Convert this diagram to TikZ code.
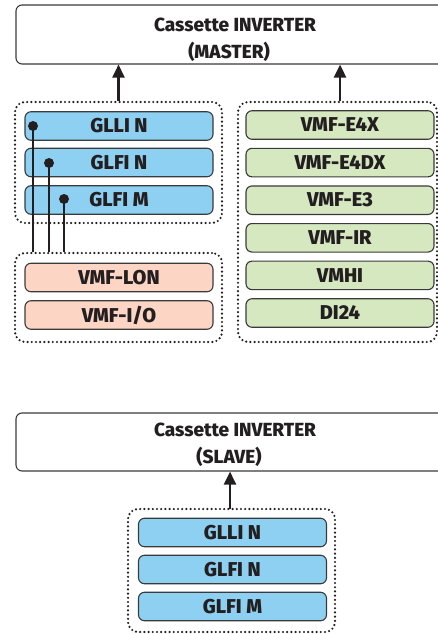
\documentclass[tikz,border=0pt]{standalone}
\usepackage{fontspec}
\setmainfont{Fira Sans}[BoldFont={Fira Sans ExtraBold}]
\usetikzlibrary{arrows.meta}
\definecolor{txt}{HTML}{231F20}
\definecolor{edge}{HTML}{3A3A3A}
\definecolor{bluef}{HTML}{8DD0F2}
\definecolor{pinkf}{HTML}{FCD5C4}
\definecolor{greenf}{HTML}{D5E8C0}
\tikzset{
  item/.style={draw=edge, line width=1.1pt, rounded corners=6pt, minimum width=188pt, minimum height=28.5pt, inner sep=0pt, font=\fontsize{20}{22}\selectfont\bfseries, text=txt},
  bluebox/.style={item, fill=bluef},
  pinkbox/.style={item, fill=pinkf},
  greenbox/.style={item, fill=greenf},
  group/.style={draw=txt, line width=2.4pt, dash pattern=on 0pt off 4.2pt, line cap=round, rounded corners=10pt, inner sep=0pt},
  unit/.style={draw=edge, line width=1.1pt, rounded corners=6pt, inner sep=0pt},
  title/.style={font=\fontsize{19}{27}\selectfont\bfseries, text=txt, align=center, inner sep=0pt},
  uparrow/.style={line width=2.6pt, draw=txt, -{Triangle[length=13pt,width=12pt]}},
  wire/.style={line width=2.6pt, draw=txt},
  dotmark/.style={circle, fill=txt, minimum size=10pt, inner sep=0pt}
}
\begin{document}
\begin{tikzpicture}[x=1pt,y=-1pt]
\useasboundingbox (0,0) rectangle (438,634);
% master unit
\node[unit, minimum width=434pt, minimum height=59pt] (master) at (233,34.5) {};
\node[title] (mastertxt) at (235,39.5) {Cassette INVERTER\\(MASTER)\hspace*{12pt}};
% left upper group
\node[group, minimum width=207pt, minimum height=121pt] (g1) at (118.5,162.5) {};
\node[bluebox] (b1) at (119,126) {GLLI N};
\node[bluebox] (b2) at (119,162.5) {GLFI N};
\node[bluebox] (b3) at (119,200) {GLFI M};
% left lower group
\node[group, minimum width=207pt, minimum height=89pt] (g2) at (118.5,297.5) {};
\node[pinkbox] (p1) at (119,277.5) {VMF-LON};
\node[pinkbox] (p2) at (119,315) {VMF-I/O};
% right group
\node[group, minimum width=199pt, minimum height=240pt] (g3) at (337.5,222) {};
\node[greenbox] (e1) at (340,125) {VMF-E4X};
\node[greenbox] (e2) at (340,162.6) {VMF-E4DX};
\node[greenbox] (e3) at (340,200.2) {VMF-E3};
\node[greenbox] (e4) at (340,237.8) {VMF-IR};
\node[greenbox] (e5) at (340,275.4) {VMHI};
\node[greenbox] (e6) at (340,313) {DI24};
% wires
\node[dotmark] (d1) at (33,126) {};
\node[dotmark] (d2) at (49,163) {};
\node[dotmark] (d3) at (64,199) {};
\draw[wire] (d1.center) -- (d1 |- g2.north);
\draw[wire] (d2.center) -- (d2 |- g2.north);
\draw[wire] (d3.center) -- (d3 |- g2.north);
% arrows
\draw[uparrow] (g1.north) -- (g1.north |- master.south);
\draw[uparrow] (e1 |- g3.north) -- (e1 |- master.south);
% slave unit
\node[unit, minimum width=434pt, minimum height=58pt] (slave) at (233,442) {};
\node[title] (slavetxt) at (235,445) {Cassette INVERTER\\(SLAVE)\hspace*{12pt}};
\node[group, minimum width=207pt, minimum height=123pt] (g4) at (231.5,570.5) {};
\node[bluebox] (s1) at (232.5,532.5) {GLLI N};
\node[bluebox] (s2) at (232.5,569.5) {GLFI N};
\node[bluebox] (s3) at (232.5,606.5) {GLFI M};
\coordinate (sb) at (230,509);
\draw[uparrow] (sb) -- (sb |- slave.south);
\end{tikzpicture}
\end{document}
